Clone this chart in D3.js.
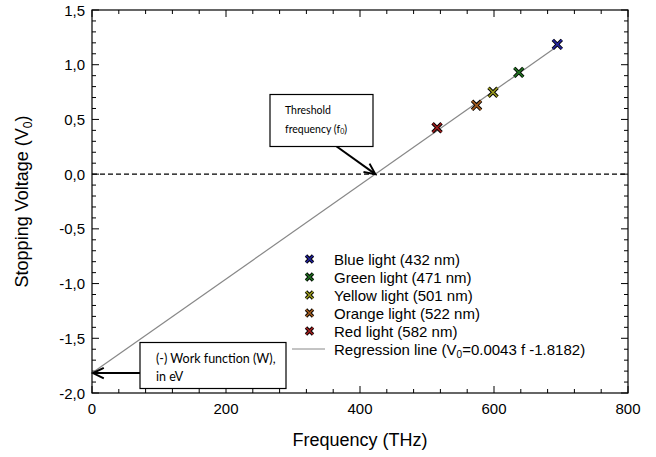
<!DOCTYPE html>
<html>
<head>
<meta charset="utf-8">
<script src="https://cdn.jsdelivr.net/npm/d3@7"></script>
<style>
  body { margin: 0; background: #fff; }
  svg { display: block; }
  text { font-family: "Liberation Sans", Arial, sans-serif; fill: #000; }
  .note { font-family: Lato, "Open Sans", sans-serif; }
</style>
</head>
<body>
<div id="chart"></div>
<script>
// light sources: label, frequency (THz), stopping voltage (V)
var labels = ["Blue light (432 nm)", "Green light (471 nm)", "Yellow light (501 nm)", "Orange light (522 nm)", "Red light (582 nm)"];
var freqs = [694.5, 637, 598.5, 574, 515];
var volts = [1.186, 0.93, 0.748, 0.629, 0.424];
var colors = ["#23239a", "#1f6e1f", "#9a9a1e", "#a05a1e", "#a01e1e"];

var slope = 0.0043, intercept = -1.8182;
var xTicks = [0, 200, 400, 600, 800];
var yTicks = [-2, -1.5, -1, -0.5, 0, 0.5, 1, 1.5];

var width = 656, height = 457;
var margin = {top: 10, right: 28, bottom: 64, left: 92};

var svg = d3.select('#chart').append('svg')
    .attr('width', width)
    .attr('height', height);

var x = d3.scaleLinear().domain([0, 800]).range([margin.left, width - margin.right]);
var y = d3.scaleLinear().domain([-2, 1.5]).range([height - margin.bottom, margin.top]);

var fmt = function (d) { return d3.format('.1f')(d).replace('.', ',').replace('−', '-'); };

// minor ticks, all pointing inward
var g = svg.append('g');
d3.range(0, 801, 40).forEach(function (v) {
    var len = v % 200 === 0 ? 7 : 4;
    g.append('line').attr('x1', x(v)).attr('x2', x(v)).attr('y1', y(-2)).attr('y2', y(-2) - len).attr('stroke', '#000');
    g.append('line').attr('x1', x(v)).attr('x2', x(v)).attr('y1', y(1.5)).attr('y2', y(1.5) + len).attr('stroke', '#000');
});
d3.range(-20, 16, 1).forEach(function (k) {
    var v = k / 10;
    var len = k % 5 === 0 ? 7 : 4;
    g.append('line').attr('y1', y(v)).attr('y2', y(v)).attr('x1', x(0)).attr('x2', x(0) + len).attr('stroke', '#000');
    g.append('line').attr('y1', y(v)).attr('y2', y(v)).attr('x1', x(800)).attr('x2', x(800) - len).attr('stroke', '#000');
});

svg.append('rect')
    .attr('x', x(0)).attr('y', y(1.5))
    .attr('width', x(800) - x(0)).attr('height', y(-2) - y(1.5))
    .attr('fill', 'none').attr('stroke', '#000').attr('stroke-width', 1.2);

// tick labels
svg.selectAll('.xl').data(xTicks).enter().append('text')
    .attr('x', d => x(d)).attr('y', y(-2) + 21)
    .attr('text-anchor', 'middle').attr('font-size', 15)
    .text(d => d);
svg.selectAll('.yl').data(yTicks).enter().append('text')
    .attr('x', x(0) - 7).attr('y', d => y(d) + 5.5)
    .attr('text-anchor', 'end').attr('font-size', 15)
    .text(fmt);

// axis titles
svg.append('text')
    .attr('x', (x(0) + x(800)) / 2).attr('y', 446)
    .attr('text-anchor', 'middle').attr('font-size', 18)
    .text('Frequency (THz)');
var yt = svg.append('text')
    .attr('transform', 'translate(28,' + ((y(-2) + y(1.5)) / 2) + ') rotate(-90)')
    .attr('text-anchor', 'middle').attr('font-size', 18);
yt.append('tspan').text('Stopping Voltage (V');
yt.append('tspan').attr('font-size', 12).attr('dy', 4).text('0');
yt.append('tspan').attr('dy', -4).text(')');

// zero line
svg.append('line')
    .attr('x1', x(0)).attr('x2', x(800)).attr('y1', y(0)).attr('y2', y(0))
    .attr('stroke', '#000').attr('stroke-dasharray', '5,3').attr('stroke-width', 1.2);

// regression line
svg.append('line')
    .attr('x1', x(0)).attr('y1', y(intercept))
    .attr('x2', x(freqs[0])).attr('y2', y(slope * freqs[0] + intercept))
    .attr('stroke', '#888').attr('stroke-width', 1.2);

// markers
function cross(sel, cx, cy, r, col) {
    var p = 'M' + (cx - r) + ',' + (cy - r) + 'L' + (cx + r) + ',' + (cy + r) +
        'M' + (cx - r) + ',' + (cy + r) + 'L' + (cx + r) + ',' + (cy - r);
    sel.append('path').attr('d', p).attr('stroke', '#000').attr('stroke-width', 3.4);
    sel.append('path').attr('d', p).attr('stroke', col).attr('stroke-width', 1.6);
}
freqs.forEach(function (f, i) {
    cross(svg, x(f), y(volts[i]), 4.5, colors[i]);
});

// legend
var lg = svg.append('g');
labels.forEach(function (l, i) {
    var ly = 259 + i * 18;
    cross(lg, 309.5, ly, 3.5, colors[i]);
    lg.append('text').attr('x', 334).attr('y', ly + 5.5).attr('font-size', 15).text(l);
});
var ry = 259 + 5 * 18;
lg.append('line').attr('x1', 292).attr('x2', 325).attr('y1', ry).attr('y2', ry)
    .attr('stroke', '#888').attr('stroke-width', 1);
var rt = lg.append('text').attr('x', 334).attr('y', ry + 5.5).attr('font-size', 15);
rt.append('tspan').text('Regression line (V');
rt.append('tspan').attr('font-size', 10).attr('dy', 3).text('0');
rt.append('tspan').attr('dy', -3).text('=0.0043 f -1.8182)');

// arrows
function arrow(x1, y1, x2, y2) {
    svg.append('line').attr('x1', x1).attr('y1', y1).attr('x2', x2).attr('y2', y2)
        .attr('stroke', '#000').attr('stroke-width', 2);
    var a = Math.atan2(y2 - y1, x2 - x1), h = 12, s = 0.45;
    var p = 'M' + (x2 - h * Math.cos(a - s)) + ',' + (y2 - h * Math.sin(a - s)) +
        'L' + x2 + ',' + y2 +
        'L' + (x2 - h * Math.cos(a + s)) + ',' + (y2 - h * Math.sin(a + s));
    svg.append('path').attr('d', p).attr('fill', 'none').attr('stroke', '#000').attr('stroke-width', 2);
}
var f0 = -intercept / slope;
arrow(336, 146, x(f0), y(0));
arrow(140, y(intercept), x(0) + 1, y(intercept));

// annotation boxes
svg.append('rect').attr('x', 270).attr('y', 94.5).attr('width', 103).attr('height', 52)
    .attr('fill', '#fff').attr('stroke', '#000').attr('stroke-width', 1.2);
svg.append('text').attr('class', 'note').attr('font-size', 10.5).attr('x', 285).attr('y', 114).text('Threshold');
var ft = svg.append('text').attr('class', 'note').attr('font-size', 10.5).attr('x', 285).attr('y', 133);
ft.append('tspan').text('frequency (f');
ft.append('tspan').attr('font-size', 7).attr('dy', 1).text('0');
ft.append('tspan').attr('dy', -1).text(')');

svg.append('rect').attr('x', 140).attr('y', 342.5).attr('width', 146).attr('height', 46)
    .attr('fill', '#fff').attr('stroke', '#000').attr('stroke-width', 1.2);
svg.append('text').attr('class', 'note').attr('font-size', 12.5).attr('x', 156).attr('y', 363).text('(-) Work function (W),');
svg.append('text').attr('class', 'note').attr('font-size', 12.5).attr('x', 156).attr('y', 381).text('in eV');
</script>
</body>
</html>
